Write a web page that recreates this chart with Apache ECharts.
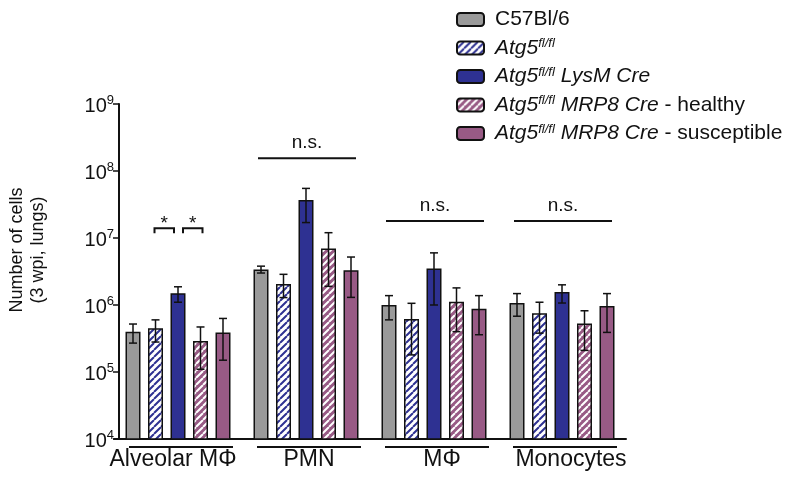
<!DOCTYPE html>
<html><head><meta charset="utf-8">
<script src="https://cdn.jsdelivr.net/npm/echarts@6/dist/echarts.min.js"></script>
<style>html,body{margin:0;padding:0;background:#fff}#c{width:800px;height:484px}</style>
</head><body><div id="c"></div>
<script>
// ---- data ----
const categories = ['Alveolar MΦ', 'PMN', 'MΦ', 'Monocytes'];
const seriesNames = ['C57Bl/6', 'Atg5 fl/fl', 'Atg5 fl/fl LysM Cre', 'Atg5 fl/fl MRP8 Cre - healthy', 'Atg5 fl/fl MRP8 Cre - susceptible'];

const c57Mean   = [4.0e5, 3.4e6, 1.0e6, 1.07e6];
const c57Low    = [2.7e5, 3.0e6, 6.0e5, 6.8e5];
const c57High   = [5.2e5, 3.8e6, 1.38e6, 1.48e6];

const flMean    = [4.5e5, 2.06e6, 6.2e5, 7.5e5];
const flLow     = [2.8e5, 1.29e6, 1.8e5, 3.8e5];
const flHigh    = [6.0e5, 2.87e6, 1.06e6, 1.1e6];

const lysmMean  = [1.5e6, 3.7e7, 3.5e6, 1.56e6];
const lysmLow   = [1.1e6, 1.7e7, 1.0e6, 1.07e6];
const lysmHigh  = [1.87e6, 5.5e7, 6.0e6, 2.0e6];

const mrpHMean  = [2.9e5, 7.0e6, 1.12e6, 5.3e5];
const mrpHLow   = [1.1e5, 1.9e6, 4.0e5, 2.1e5];
const mrpHHigh  = [4.7e5, 1.2e7, 1.8e6, 8.2e5];

const mrpSMean  = [3.9e5, 3.3e6, 8.8e5, 9.7e5];
const mrpSLow   = [1.5e5, 1.3e6, 3.6e5, 3.9e5];
const mrpSHigh  = [6.3e5, 5.2e6, 1.38e6, 1.48e6];

const yTickExponents = [4, 5, 6, 7, 8, 9];

// significance annotations
const nsCategoryIdx = [1, 2, 3];
const nsLevel = [1.55e8, 1.8e7, 1.8e7];
const starCategoryIdx = 0;
const starPairs = [[1, 2], [2, 3]];
const starLevel = 1.4e7;

// ---- styling ----
const FONT = 'Liberation Sans, Arial, sans-serif';
const BAR_W = 15;
const BAR_STEP = 22.5;
const GREY = '#9a9a9a', BLUE = '#2e3192', MAUVE = '#985a85';

function hatch(bg, fg, size, lw) {
  const c = document.createElement('canvas');
  c.width = c.height = size;
  const x = c.getContext('2d');
  x.fillStyle = bg; x.fillRect(0, 0, size, size);
  x.strokeStyle = fg; x.lineWidth = lw;
  x.beginPath();
  for (let k = -1; k <= 1; k++) { x.moveTo(k * size, size); x.lineTo(k * size + size, 0); }
  x.stroke();
  return c;
}

const means = [c57Mean, flMean, lysmMean, mrpHMean, mrpSMean];
const lows = [c57Low, flLow, lysmLow, mrpHLow, mrpSLow];
const highs = [c57High, flHigh, lysmHigh, mrpHHigh, mrpSHigh];
const fills = [
  GREY,
  { image: hatch('#ffffff', BLUE, 7, 2), repeat: 'repeat' },
  BLUE,
  { image: hatch(MAUVE, '#ffffff', 7, 2), repeat: 'repeat' },
  MAUVE
];

const barSeries = seriesNames.map((n, i) => ({
  name: n, type: 'bar', data: means[i],
  barWidth: BAR_W, barGap: '50%',
  itemStyle: { color: fills[i], borderColor: '#111', borderWidth: 1.5 },
  z: 2
}));

const errData = [];
for (let s = 0; s < 5; s++) for (let c = 0; c < categories.length; c++) errData.push([c, lows[s][c], highs[s][c], s]);

const errSeries = {
  type: 'custom', z: 4, silent: true, data: errData,
  renderItem(params, api) {
    const c = api.value(0), s = api.value(3);
    const lo = api.coord([c, api.value(1)]);
    const hi = api.coord([c, api.value(2)]);
    const x = lo[0] + (s - 2) * BAR_STEP;
    const st = { stroke: '#111', lineWidth: 1.5 };
    return { type: 'group', children: [
      { type: 'line', shape: { x1: x, y1: lo[1], x2: x, y2: hi[1] }, style: st },
      { type: 'line', shape: { x1: x - 4, y1: lo[1], x2: x + 4, y2: lo[1] }, style: st },
      { type: 'line', shape: { x1: x - 4, y1: hi[1], x2: x + 4, y2: hi[1] }, style: st }
    ]};
  }
};

const annSeries = {
  type: 'custom', z: 4, silent: true, data: [0],
  renderItem(params, api) {
    const kids = [];
    const st = { stroke: '#111', lineWidth: 2 };
    // group underlines
    for (let c = 0; c < categories.length; c++) {
      const p = api.coord([c, 1e4]);
      kids.push({ type: 'line', shape: { x1: p[0] - 52 + 3, y1: p[1] + 8, x2: p[0] + 52 + 3, y2: p[1] + 8 }, style: st });
    }
    // n.s. lines
    nsCategoryIdx.forEach((c, k) => {
      const p = api.coord([c, nsLevel[k]]);
      kids.push({ type: 'line', shape: { x1: p[0] - 48, y1: p[1], x2: p[0] + 50, y2: p[1] }, style: st });
      kids.push({ type: 'text', style: { text: 'n.s.', x: p[0] + 1, y: p[1] - 15, align: 'center', verticalAlign: 'middle', font: '19px ' + FONT, fill: '#111' } });
    });
    // star brackets (leave a small gap at the central bar)
    starPairs.forEach(([a, b]) => {
      const p = api.coord([starCategoryIdx, starLevel]);
      const xa = p[0] + (a - 2) * BAR_STEP + (a === 2 ? 5 : -1);
      const xb = p[0] + (b - 2) * BAR_STEP + (b === 2 ? -4 : 2);
      kids.push({ type: 'polyline', shape: { points: [[xa, p[1] + 5], [xa, p[1]], [xb, p[1]], [xb, p[1] + 5]] }, style: { stroke: '#111', lineWidth: 2, fill: null } });
      kids.push({ type: 'text', style: { text: '*', x: (xa + xb) / 2, y: p[1] - 4, align: 'center', verticalAlign: 'middle', font: '19px ' + FONT, fill: '#111' } });
    });
    return { type: 'group', children: kids };
  }
};

function legendText(name) {
  const pre = 'Atg5 fl/fl';
  if (name.indexOf(pre) !== 0) return '{n|' + name + '}';
  const rest = name.slice(pre.length);
  const m = rest.match(/^( [^-]*?)?( - .*)?$/);
  let out = '{i|Atg5}{s|fl/fl}';
  if (m && m[1]) out += '{i|' + m[1] + '}';
  if (m && m[2]) out += '{n|' + m[2] + '}';
  return out;
}

const labelOffsets = [-10, 6, 16, 18];
const catRich = {};
labelOffsets.forEach((o, i) => {
  catRich['c' + i] = { fontSize: 23, fontFamily: FONT, color: '#111',
    padding: o < 0 ? [0, -o, 0, 0] : [0, 0, 0, o] };
});

const chart = echarts.init(document.getElementById('c'), null, { renderer: 'canvas' });
chart.setOption({
  animation: false,
  backgroundColor: '#fff',
  textStyle: { fontFamily: FONT },
  grid: { left: 114, width: 512, top: 104, bottom: 45 },
  legend: {
    orient: 'vertical', left: 456, top: 9, padding: 0,
    itemWidth: 27, itemHeight: 13, itemGap: 7,
    data: seriesNames,
    formatter: legendText,
    textStyle: {
      padding: [0, 0, 0, 6],
      rich: {
        n: { fontSize: 21, fontFamily: FONT, color: '#111', lineHeight: 22 },
        i: { fontSize: 21, fontFamily: FONT, fontStyle: 'italic', color: '#111', lineHeight: 22 },
        s: { fontSize: 13, fontFamily: FONT, fontStyle: 'italic', color: '#111', lineHeight: 13, verticalAlign: 'top' }
      }
    }
  },
  xAxis: {
    type: 'category', data: categories,
    axisLine: { lineStyle: { color: '#111', width: 2 } },
    axisTick: { show: false },
    axisLabel: {
      margin: 9, interval: 0,
      formatter: (v, i) => '{c' + i + '|' + v + '}',
      rich: catRich
    }
  },
  yAxis: {
    type: 'log', logBase: 10, min: 1e4, max: 1e9, offset: -5,
    splitLine: { show: false },
    axisLine: { show: true, lineStyle: { color: '#111', width: 2 } },
    axisTick: { show: true, length: 6, lineStyle: { color: '#111', width: 1.5 } },
    axisLabel: {
      margin: 5,
      formatter: v => {
        const e = Math.round(Math.log10(v));
        return yTickExponents.indexOf(e) >= 0 ? '{b|10}{s|' + e + '}' : '';
      },
      rich: {
        b: { fontSize: 20, fontFamily: FONT, color: '#111', lineHeight: 20, padding: [4, 0, 0, 0] },
        s: { fontSize: 13, fontFamily: FONT, color: '#111', lineHeight: 13, verticalAlign: 'top' }
      }
    }
  },
  graphic: [{
    type: 'text',
    style: {
      text: 'Number of cells\n(3 wpi, lungs)', font: '18px ' + FONT, fill: '#111',
      align: 'center', verticalAlign: 'middle', lineHeight: 21
    },
    rotation: Math.PI / 2,
    x: 28, y: 250
  }],
  series: barSeries.concat([errSeries, annSeries])
});
</script>
</body></html>
